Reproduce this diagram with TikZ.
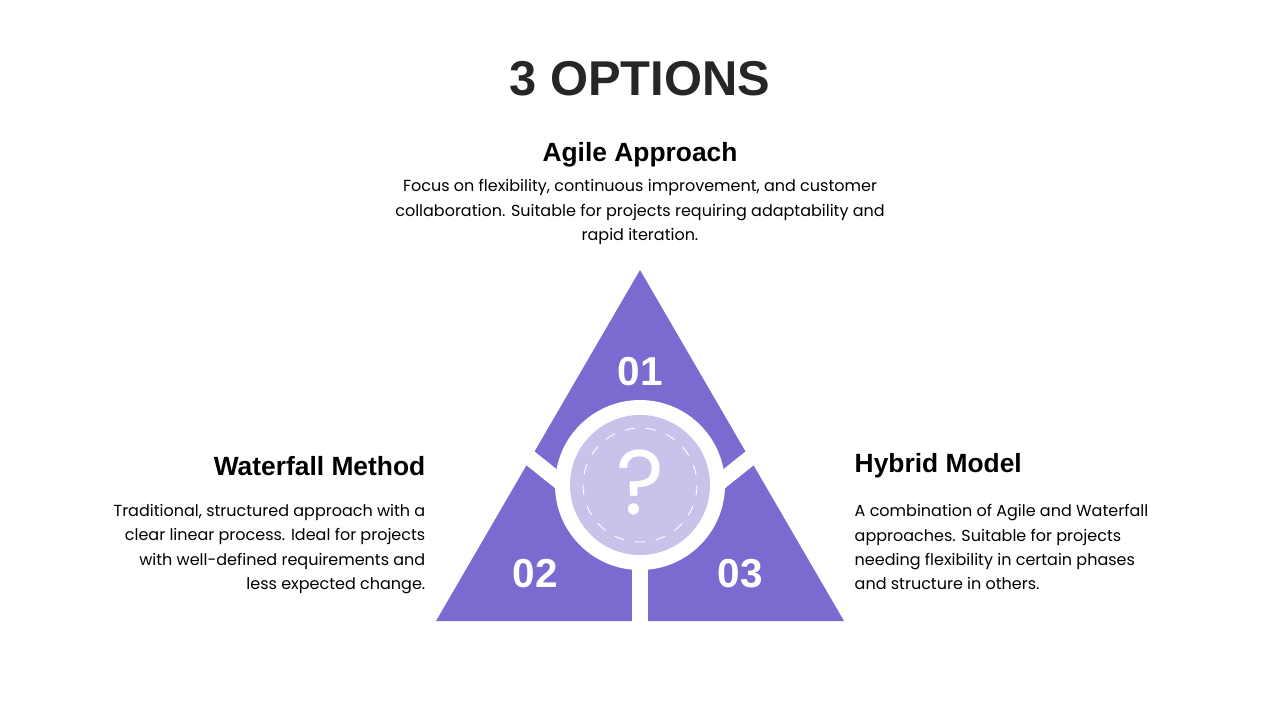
\documentclass[tikz,border=0pt]{standalone}
\usepackage{fontspec}
\setmainfont{Poppins}
\newfontfamily\headfont{Liberation Sans}
\definecolor{tripurple}{HTML}{7B6BD0}
\definecolor{lilac}{HTML}{C9C3EC}
\definecolor{titlegray}{HTML}{262626}

\begin{document}
\begin{tikzpicture}[x=0.01cm,y=-0.01cm,
		head/.style={inner sep=0pt,font=\headfont\fontsize{7.5}{10}\selectfont\bfseries},
		body/.style={inner sep=0pt,font=\fontsize{4.55}{6.85}\selectfont},
		num/.style={text=white,font=\headfont\fontsize{11.5}{12}\selectfont\bfseries},
		gap/.style={white,line width=4.5pt}]
		\useasboundingbox (0,0) rectangle (1280,720);
		\node[font=\headfont\fontsize{13.9}{16}\selectfont\bfseries,text=titlegray] (title) at (640,79) {3 OPTIONS};
		
		% triangle and gaps
		\fill[tripurple] (640,270) -- (844,621) -- (436,621) -- cycle;
		\coordinate (c) at (640,485);
		\draw[gap] (c) -- ++(0,140);
		\draw[gap] (515,446) -- (585,502);
		\draw[gap] (765,446) -- (695,502);
		\fill[white] (c) circle (85);
		\fill[lilac] (c) circle (70);
		\draw[white,dashed,line width=0.25pt] (c) circle (57);
		\node[text=white,font=\fontsize{26}{26}\selectfont] (q) at (640,482) {?};
		
		\node[num] (n1) at (640,372) {01};
		\node[num] (n2) at (535,574) {02};
		\node[num] (n3) at (740,574) {03};
		
		% texts
		\node[head] (agile) at (640,155) {Agile Approach};
		\node[body,align=center,anchor=north] (agiletxt) at (640,179) {Focus on flexibility, continuous improvement, and customer\\collaboration. Suitable for projects requiring adaptability and\\rapid iteration.};
		\node[head,anchor=east] (water) at (426,466) {Waterfall Method};
		\node[body,align=right,anchor=north east] (watertxt) at (426,504) {Traditional, structured approach with a\\clear linear process. Ideal for projects\\with well-defined requirements and\\less expected change.};
		\node[head,anchor=west] (hybrid) at (854,466) {Hybrid Model};
		\node[body,align=left,anchor=north west] (hybridtxt) at (854,504) {A combination of Agile and Waterfall\\approaches. Suitable for projects\\needing flexibility in certain phases\\and structure in others.};
\end{tikzpicture}
\end{document}
